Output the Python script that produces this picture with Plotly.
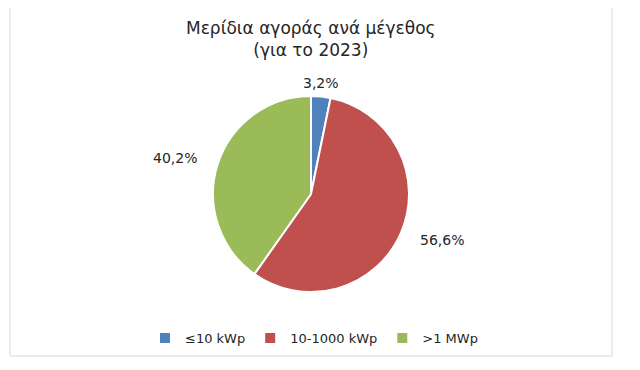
import math
import plotly.graph_objects as go

categories = ["≤10 kWp", "10-1000 kWp", ">1 MWp"]
shares = [3.2, 56.6, 40.2]
share_labels = ["3,2%", "56,6%", "40,2%"]
colors = ["#4F81BD", "#C0504D", "#9BBB59"]

OFF = 8                      # default page body margin
W, H = 640 - OFF, 370 - OFF  # figure size
cx, cy, r = 311 - OFF, 194 - OFF, 98
FONT = "DejaVu Sans"
TXT = "#262626"


def px(x):
    return x / W


def py(y):
    return 1 - y / H


fig = go.Figure(go.Pie(
    labels=categories,
    values=shares,
    textinfo="none",
    sort=False,
    direction="clockwise",
    rotation=0,
    marker=dict(colors=colors, line=dict(color="white", width=2)),
    domain=dict(x=[px(cx - r), px(cx + r)], y=[py(cy + r), py(cy - r)]),
    showlegend=True,
    hoverinfo="label+percent",
))

# data labels placed outside each slice at its mid-angle
annotations = []
total = sum(shares)
acc = 0.0
for val, lab in zip(shares, share_labels):
    mid = (acc + val / 2) / total * 2 * math.pi
    acc += val
    dx, dy = math.sin(mid), -math.cos(mid)
    gap = 2 + 18 * abs(dx)
    x = cx + (r + gap) * dx
    y = cy + (r + gap) * dy
    xa = "left" if dx > 0.3 else ("right" if dx < -0.3 else "center")
    ya = "bottom" if dy < -0.9 else ("top" if dy > 0.9 else "middle")
    annotations.append(dict(
        x=px(x), y=py(y), xref="paper", yref="paper", text=lab, showarrow=False,
        xanchor=xa, yanchor=ya, font=dict(family=FONT, size=14, color=TXT),
    ))

annotations.append(dict(
    x=px(311 - OFF), y=py(39 - OFF), xref="paper", yref="paper",
    text="Μερίδια αγοράς ανά μέγεθος<br>(για το 2023)", showarrow=False,
    xanchor="center", yanchor="middle", align="center",
    font=dict(family=FONT, size=17, color=TXT),
))

fig.update_layout(
    width=W, height=H,
    margin=dict(l=0, r=0, t=0, b=0),
    paper_bgcolor="white",
    annotations=annotations,
    legend=dict(
        orientation="h", x=px(314 - OFF), xanchor="center", y=py(338 - OFF), yanchor="middle",
        font=dict(family=FONT, size=13, color=TXT),
        itemwidth=30, traceorder="normal",
    ),
    shapes=[dict(type="rect", xref="paper", yref="paper",
                 x0=px(10 - OFF), x1=px(612 - OFF), y0=py(356 - OFF), y1=py(6 - OFF),
                 line=dict(color="#D9D9D9", width=1))],
)

fig.write_html("out.html")
